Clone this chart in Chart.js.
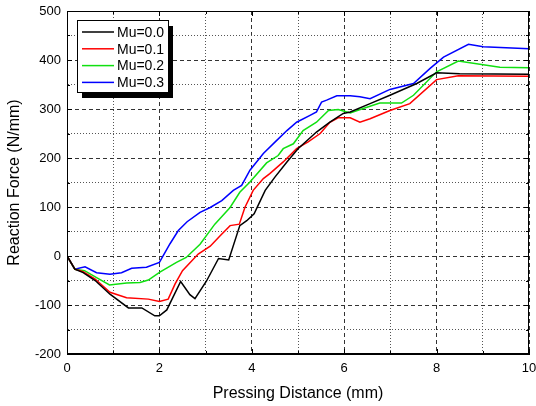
<!DOCTYPE html>
<html lang="en">
<head>
  <meta charset="UTF-8">
  <title>Reaction Force vs Pressing Distance</title>
  <script src="https://cdn.jsdelivr.net/npm/chart.js"></script>
  <style>
    body { margin: 0; background: #fff; }
    #wrap { width: 536px; height: 406px; }
  </style>
</head>
<body>
  <div id="wrap"><canvas id="chart" width="536" height="406"></canvas></div>

  <script>
    // data (x in mm, y in N/mm)
    const xMu0 = [0, 0.17, 0.35, 0.61, 0.93, 1.33, 1.62, 1.90, 2.0, 2.16, 2.46, 2.66, 2.77, 3.02, 3.28, 3.5, 3.74, 3.89, 4.05, 4.29, 4.5, 4.76, 5.0, 5.4, 5.69, 5.98, 6.13, 6.56, 6.99, 7.57, 8.0, 8.5, 10];
    const yMu0 = [0, -27, -34, -50, -78, -106, -106, -122, -122, -110, -52, -79, -87, -51, -5, -8, 62, 72, 86, 134, 161, 192, 219, 253, 273, 291, 294, 311, 328, 352, 374, 372, 371];

    const xMu1 = [0, 0.17, 0.35, 0.61, 0.93, 1.29, 1.76, 2.0, 2.19, 2.34, 2.5, 2.84, 3.1, 3.31, 3.53, 3.73, 3.85, 4.03, 4.25, 4.39, 4.68, 4.97, 5.22, 5.48, 5.69, 5.87, 6.13, 6.34, 6.56, 6.99, 7.42, 8.0, 8.47, 10];
    const yMu1 = [0, -27, -32, -47, -74, -85, -88, -93, -88, -57, -30, 4, 20, 41, 62, 65, 99, 134, 158, 168, 192, 219, 233, 250, 273, 282, 282, 273, 280, 297, 311, 360, 368, 367];

    const xMu2 = [0, 0.17, 0.38, 0.64, 0.92, 1.29, 1.58, 1.76, 2.01, 2.37, 2.58, 2.88, 3.2, 3.53, 3.74, 3.96, 4.32, 4.57, 4.68, 4.9, 5.11, 5.4, 5.66, 5.87, 6.13, 6.41, 6.77, 7.24, 7.5, 8.0, 8.47, 9.37, 10];
    const yMu2 = [0, -27, -30, -44, -59, -55, -54, -49, -33, -13, -3, 24, 65, 99, 130, 151, 190, 205, 219, 229, 256, 273, 297, 299, 292, 301, 312, 312, 328, 376, 398, 385, 384];

    const xMu3 = [0, 0.17, 0.39, 0.64, 0.93, 1.18, 1.4, 1.72, 2.0, 2.23, 2.41, 2.6, 2.88, 3.1, 3.35, 3.6, 3.78, 3.96, 4.25, 4.54, 4.76, 4.97, 5.26, 5.4, 5.51, 5.62, 5.84, 6.13, 6.34, 6.56, 6.99, 7.5, 7.86, 8.15, 8.69, 9.01, 10];
    const yMu3 = [0, -27, -22, -34, -37, -34, -25, -23, -13, 25, 52, 70, 89, 99, 113, 134, 144, 175, 209, 236, 256, 273, 287, 294, 314, 318, 327, 327, 325, 321, 340, 352, 383, 406, 432, 427, 423];

    const seriesLabels = ['Mu=0.0', 'Mu=0.1', 'Mu=0.2', 'Mu=0.3'];
    const seriesColors = ['#000000', '#ff0000', '#10e010', '#0000ff'];
    const seriesX = [xMu0, xMu1, xMu2, xMu3];
    const seriesY = [yMu0, yMu1, yMu2, yMu3];

    const fontName = '"Liberation Sans", Arial, sans-serif';

    // frame on all four sides + inward tick marks
    const framePlugin = {
      id: 'frame',
      afterDatasetsDraw(chart) {
        const { ctx, chartArea: a, scales: { x, y } } = chart;
        ctx.save();
        ctx.strokeStyle = '#000';
        ctx.lineWidth = 1;
        ctx.strokeRect(a.left + 0.5, a.top + 0.5, a.right - a.left - 1, a.bottom - a.top - 1);
        ctx.beginPath();
        x.ticks.forEach(t => {
          const px = Math.round(x.getPixelForValue(t.value)) + 0.5;
          const len = t.value % 2 === 0 ? 5 : 3;
          ctx.moveTo(px, a.bottom); ctx.lineTo(px, a.bottom - len);
          ctx.moveTo(px, a.top); ctx.lineTo(px, a.top + len);
        });
        y.ticks.forEach(t => {
          const py = Math.round(y.getPixelForValue(t.value)) + 0.5;
          const len = t.value % 100 === 0 ? 5 : 3;
          ctx.moveTo(a.left, py); ctx.lineTo(a.left + len, py);
          ctx.moveTo(a.right, py); ctx.lineTo(a.right - len, py);
        });
        ctx.stroke();
        ctx.restore();
      }
    };

    // boxed legend with shadow, inside the plot
    const legendBox = {
      id: 'legendBox',
      afterDraw(chart) {
        const { ctx, chartArea: a } = chart;
        const bx = a.left + 10, by = a.top + 9, bw = 91, bh = 72;
        ctx.save();
        ctx.fillStyle = '#000';
        ctx.fillRect(bx + 5, by + 6, bw, bh);
        ctx.fillStyle = '#fff';
        ctx.fillRect(bx, by, bw, bh);
        ctx.strokeStyle = '#000';
        ctx.lineWidth = 1;
        ctx.strokeRect(bx + 0.5, by + 0.5, bw, bh);
        ctx.font = '14px ' + fontName;
        ctx.textBaseline = 'middle';
        chart.data.datasets.forEach((ds, i) => {
          const ly = by + 12 + i * 16.8;
          ctx.strokeStyle = ds.borderColor;
          ctx.lineWidth = 1.5;
          ctx.beginPath();
          ctx.moveTo(bx + 5, ly);
          ctx.lineTo(bx + 37, ly);
          ctx.stroke();
          ctx.fillStyle = '#000';
          ctx.fillText(ds.label, bx + 40, ly + 1);
        });
        ctx.restore();
      }
    };

    const datasets = seriesLabels.map((label, i) => ({
      label: label,
      data: seriesX[i].map((xv, j) => ({ x: xv, y: seriesY[i][j] })),
      borderColor: seriesColors[i],
      backgroundColor: seriesColors[i],
      borderWidth: 1.5,
      pointRadius: 0,
      tension: 0,
      fill: false
    }));

    new Chart(document.getElementById('chart'), {
      type: 'line',
      data: { datasets: datasets },
      options: {
        responsive: false,
        animation: false,
        devicePixelRatio: 1,
        layout: { padding: { top: 11, right: 7, left: 0, bottom: 0 } },
        plugins: {
          legend: { display: false },
          tooltip: { enabled: false }
        },
        scales: {
          x: {
            type: 'linear',
            min: 0,
            max: 10,
            ticks: {
              stepSize: 1,
              autoSkip: false,
              maxRotation: 0,
              padding: 7,
              color: '#000',
              font: { family: fontName, size: 13 },
              callback: v => (v % 2 === 0 ? v : '')
            },
            grid: {
              drawTicks: false,
              color: ctx => (ctx.tick && ctx.tick.value % 2 === 0 ? '#333' : '#555'),
              lineWidth: 1
            },
            border: {
              display: true,
              color: '#000',
              width: 1,
              dash: ctx => (ctx.tick ? (ctx.tick.value % 2 === 0 ? [4, 3] : [1, 2]) : [])
            },
            title: {
              display: true,
              text: 'Pressing Distance (mm)',
              color: '#000',
              font: { family: fontName, size: 16 },
              padding: { top: 0, bottom: 3 }
            },
            afterFit: s => { s.height = 52; s.paddingRight = 0; s.paddingLeft = 0; }
          },
          y: {
            min: -200,
            max: 500,
            ticks: {
              stepSize: 50,
              autoSkip: false,
              padding: 6,
              color: '#000',
              font: { family: fontName, size: 13 },
              callback: v => (v % 100 === 0 ? v : '')
            },
            grid: {
              drawTicks: false,
              color: ctx => (ctx.tick && ctx.tick.value % 100 === 0 ? '#333' : '#555'),
              lineWidth: 1
            },
            border: {
              display: true,
              color: '#000',
              width: 1,
              dash: ctx => (ctx.tick ? (ctx.tick.value % 100 === 0 ? [4, 3] : [1, 2]) : [])
            },
            title: {
              display: true,
              text: 'Reaction Force (N/mm)',
              color: '#000',
              font: { family: fontName, size: 16 },
              padding: { top: 5, bottom: 0 }
            },
            afterFit: s => { s.width = 67; s.paddingTop = 0; s.paddingBottom = 0; }
          }
        }
      },
      plugins: [framePlugin, legendBox]
    });
  </script>
</body>
</html>
